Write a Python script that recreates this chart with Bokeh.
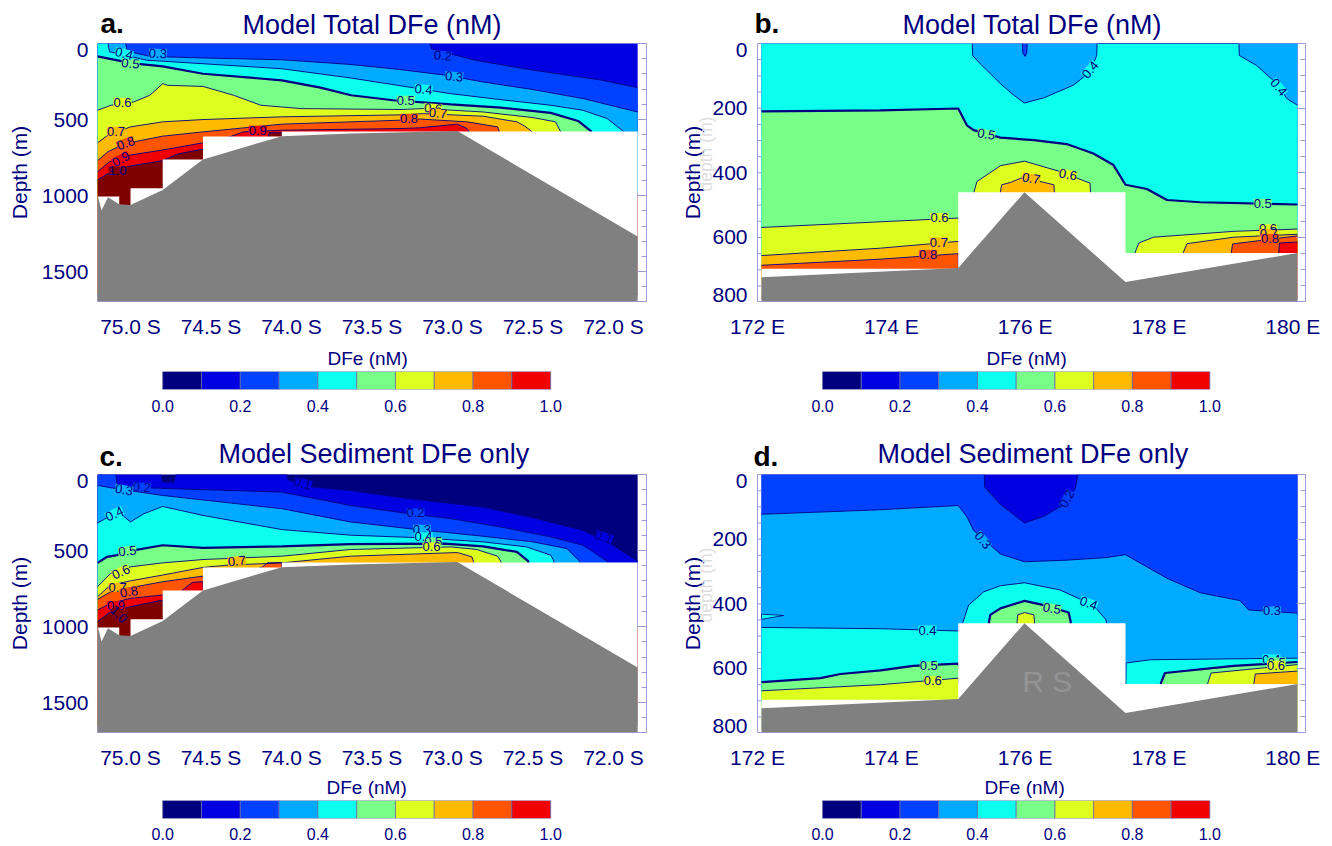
from bokeh.plotting import figure
from bokeh.models import Range1d, FixedTicker, LinearAxis, Label, Title, ColumnDataSource
from bokeh.layouts import column, row
from bokeh.core.properties import value
from bokeh.embed import file_html
from bokeh.resources import INLINE

FONT = "Liberation Sans"
NAVY = "#000080"
FRAME = "#9c9cd8"
GRAY = "#808080"
PALETTE = ["#00007f", "#0000e0", "#0040ff", "#00aaff", "#0affee", "#78ff88",
           "#dcff20", "#ffbb00", "#ff5500", "#f00000", "#800000"]
BAR_LEVELS = [0.0, 0.1, 0.2, 0.3, 0.4, 0.5, 0.6, 0.7, 0.8, 0.9, 1.0]
BAR_TICKS = [0.0, 0.2, 0.4, 0.6, 0.8, 1.0]

LAT_TICKS = [75.0, 74.5, 74.0, 73.5, 73.0, 72.5, 72.0]
LON_TICKS = [172, 174, 176, 178, 180]

# ---- shared sea-floor and grid mask ---------------------------------------
LAT_TERRAIN_X = [75.205, 75.18, 75.14, 75.07, 75.0, 74.8, 74.55, 74.06, 73.63, 72.97, 71.85]
LAT_TERRAIN_D = [995, 1098, 1011, 1057, 1061, 963, 762, 609, 592, 576, 1268]
LAT_MASK_X = [75.205, 75.07, 75.07, 75.0, 75.0, 74.8, 74.8, 74.55, 74.55, 74.06, 74.06, 71.85]
LAT_MASK_D = [1006, 1006, 1061, 1061, 952, 952, 762, 762, 612, 612, 579, 579]
LON_TERRAIN_X = [172.06, 175.0, 175.99, 177.5, 180.07]
LON_TERRAIN_D = [723, 694, 460, 738, 648]
LON_MASK_X = [172.06, 175.0, 175.0, 177.5, 177.5, 180.07]
LON_MASK_D = [697, 697, 460, 460, 648, 648]

# ---- panel a: Ross Sea transect, total DFe --------------------------------
A02_X = [75.205, 73.14, 73.13, 72.86, 72.5, 72.08, 71.85]
A02_D = [0, 0, 35, 110, 175, 240, 290]
A03_X = [75.205, 75.03, 75.02, 74.88, 74.55, 74.06, 73.63, 73.32, 73.03, 72.81, 72.5, 72.19, 71.85]
A03_D = [0, 0, 50, 85, 95, 107, 138, 172, 210, 253, 303, 362, 450]
A04_X = [75.205, 75.14, 75.13, 75.03, 74.9, 74.55, 74.06, 73.63, 73.25, 73.01, 72.7, 72.39, 72.19, 72.04, 71.94, 71.93, 71.85]
A04_D = [0, 0, 55, 78, 110, 133, 166, 227, 290, 330, 369, 406, 439, 493, 576, 700, 1000]
A05_X = [75.205, 75.08, 75.0, 74.8, 74.55, 74.06, 73.82, 73.63, 73.37, 73.01, 72.7, 72.39, 72.22, 72.14, 72.13, 71.85]
A05_D = [85, 111, 129, 150, 199, 242, 290, 340, 373, 400, 421, 456, 509, 576, 650, 1000]
A06_X = [75.205, 75.12, 74.98, 74.88, 74.8, 74.77, 74.55, 74.36, 74.19, 73.94, 73.32, 73.18, 72.81, 72.5, 72.36, 72.33, 72.32, 71.85]
A06_D = [439, 406, 384, 340, 264, 275, 282, 340, 406, 428, 434, 428, 450, 487, 515, 576, 650, 1000]
A07_X = [75.205, 75.14, 75.0, 74.8, 74.55, 74.06, 73.32, 73.18, 72.81, 72.6, 72.55, 72.51, 72.5, 71.85]
A07_D = [653, 603, 548, 515, 500, 482, 469, 461, 478, 515, 544, 576, 650, 1000]
A08_X = [75.205, 75.14, 75.03, 74.8, 74.55, 74.06, 73.32, 73.26, 72.91, 72.72, 72.71, 72.7, 71.85]
A08_D = [770, 711, 657, 609, 581, 530, 504, 493, 515, 548, 576, 650, 1000]
A09_X = [75.205, 75.13, 75.0, 74.8, 74.55, 74.38, 74.3, 74.06, 73.32, 73.2, 72.97, 72.91, 72.9, 72.89, 71.85]
A09_D = [843, 777, 733, 700, 653, 613, 581, 570, 559, 554, 530, 559, 576, 650, 1000]
A10_X = [75.205, 75.12, 75.0, 74.8, 74.71, 74.55, 74.54, 74.15, 74.14, 74.06, 74.05, 71.85]
A10_D = [897, 843, 805, 770, 727, 694, 700, 700, 587, 587, 700, 1000]
A_LABEL_TEXT = ["0.2", "0.3", "0.4", "0.5", "0.6", "0.7", "0.8", "0.9", "0.6", "0.7", "0.8", "0.9", "1.0", "0.5", "0.3", "0.4"]
A_LABEL_X = [73.06, 72.99, 73.18, 73.29, 73.12, 73.09, 73.27, 74.21, 75.05, 75.09, 75.03, 75.06, 75.08, 75.0, 74.83, 75.04]
A_LABEL_D = [79, 216, 301, 373, 426, 458, 491, 570, 386, 576, 655, 760, 838, 131, 65, 65]
A_LABEL_ANGLE = [-5, -5, -5, 0, -5, -5, 0, 0, 0, 0, 20, 30, 0, -5, -3, -15]

# ---- panel b: 172E-180E transect, total DFe -------------------------------
B03_X = [172.06, 175.95, 175.96, 175.965, 176.0, 176.025, 176.03, 176.04, 180.07]
B03_D = [0, 0, 0, 30, 40, 30, 0, 0, 0]
B04_X = [172.06, 175.21, 175.215, 175.33, 175.63, 175.83, 175.99, 176.28, 176.72, 176.97, 177.07, 177.075, 179.195, 179.2, 179.46, 179.76, 179.91, 180.07]
B04_D = [0, 0, 37, 63, 124, 160, 184, 168, 129, 88, 37, 0, 0, 37, 68, 124, 170, 191]
B05_X = [172.06, 173.84, 175.0, 175.13, 175.23, 175.63, 176.13, 176.62, 177.02, 177.32, 177.5, 177.82, 178.12, 178.62, 180.07]
B05_D = [210, 207, 201, 253, 268, 291, 299, 311, 340, 376, 437, 450, 484, 491, 498]
B06_X = [172.06, 175.0, 175.1, 175.22, 175.28, 175.63, 175.99, 176.52, 176.97, 176.98, 177.5, 177.64, 177.7, 177.92, 179.12, 180.07]
B06_D = [569, 540, 600, 470, 427, 378, 364, 396, 432, 470, 700, 648, 617, 599, 581, 574]
B07_X = [172.06, 173.84, 175.0, 175.3, 175.62, 175.65, 175.78, 175.93, 175.99, 176.43, 176.44, 176.45, 178.35, 178.36, 178.42, 179.12, 180.07]
B07_D = [656, 633, 612, 700, 470, 437, 430, 417, 415, 437, 470, 780, 780, 648, 619, 599, 590]
B08_X = [172.06, 173.84, 175.0, 175.01, 179.07, 179.08, 179.1, 180.07]
B08_D = [686, 667, 650, 780, 780, 648, 620, 595]
B09_X = [172.06, 179.78, 179.79, 179.8, 180.07]
B09_D = [780, 780, 648, 617, 614]
B_LABEL_TEXT = ["0.5", "0.6", "0.7", "0.8", "0.7", "0.6", "0.4", "0.4", "0.5", "0.6", "0.7", "0.8"]
B_LABEL_X = [175.42, 174.72, 174.71, 174.55, 176.09, 176.64, 176.97, 179.79, 179.55, 179.63, 179.64, 179.66]
B_LABEL_D = [280, 538, 614, 653, 417, 405, 81, 135, 494, 573, 588, 603]
B_LABEL_ANGLE = [-10, 0, 0, 0, -10, -10, 50, -50, 0, 0, 0, 0]

# ---- panel c: Ross Sea transect, sediment DFe -----------------------------
C01_X = [75.205, 74.81, 74.8, 74.73, 74.72, 74.03, 74.02, 73.9, 73.63, 73.27, 72.81, 72.5, 72.19, 72.02, 71.85]
C01_D = [0, 0, 50, 50, 0, 0, 35, 79, 105, 159, 214, 284, 367, 454, 570]
C02_X = [75.205, 75.09, 75.083, 74.917, 74.06, 73.634, 73.27, 73.01, 72.7, 72.39, 72.19, 72.04, 72.03, 71.85]
C02_D = [0, 0, 72, 87, 116, 203, 258, 290, 345, 410, 465, 570, 700, 1000]
C03_X = [75.205, 75.083, 74.8, 74.06, 73.634, 73.22, 72.81, 72.5, 72.29, 72.21, 72.2, 71.85]
C03_D = [72, 94, 138, 225, 312, 362, 406, 443, 487, 570, 700, 1000]
C04_X = [75.205, 75.145, 75.062, 75.0, 74.917, 74.8, 74.55, 74.06, 73.634, 73.22, 72.81, 72.54, 72.39, 72.37, 72.36, 71.85]
C04_D = [319, 284, 258, 312, 258, 210, 269, 362, 399, 415, 443, 476, 530, 570, 700, 1000]
C05_X = [75.205, 75.145, 75.083, 75.0, 74.8, 74.55, 74.06, 73.634, 73.05, 72.81, 72.6, 72.53, 72.52, 71.85]
C05_D = [581, 541, 530, 502, 465, 482, 472, 458, 454, 472, 509, 570, 700, 1000]
C06_X = [75.205, 75.124, 75.0, 74.8, 74.55, 74.06, 73.634, 73.01, 72.85, 72.72, 72.7, 72.69, 71.85]
C06_D = [738, 651, 607, 581, 559, 537, 493, 476, 493, 537, 570, 700, 1000]
C07_X = [75.205, 75.124, 75.0, 74.8, 74.55, 74.4, 74.06, 73.634, 72.97, 72.88, 72.87, 72.86, 71.85]
C07_D = [803, 727, 699, 661, 611, 596, 581, 537, 513, 541, 570, 700, 1000]
C08_X = [75.205, 75.124, 75.0, 74.8, 74.55, 74.4, 74.18, 74.15, 74.06, 74.05, 71.85]
C08_D = [821, 771, 744, 705, 668, 700, 607, 581, 578, 800, 1000]
C09_X = [75.205, 75.124, 75.0, 74.8, 74.69, 74.617, 74.55, 74.54, 71.85]
C09_D = [891, 847, 814, 792, 771, 709, 705, 900, 1000]
C10_X = [75.205, 75.124, 75.0, 74.8, 74.79, 71.85]
C10_D = [967, 902, 869, 825, 900, 1000]
C_LABEL_TEXT = ["0.2", "0.3", "0.4", "0.5", "0.6", "0.7", "0.8", "0.9", "1.0", "0.7", "0.2", "0.3", "0.4", "0.5", "0.6", "0.1", "0.1"]
C_LABEL_X = [74.93, 75.04, 75.1, 75.02, 75.06, 75.08, 75.01, 75.09, 75.07, 74.34, 73.23, 73.19, 73.18, 73.12, 73.13, 72.06, 73.93]
C_LABEL_D = [83, 100, 258, 502, 640, 742, 771, 862, 919, 568, 253, 360, 410, 443, 476, 410, 57]
C_LABEL_ANGLE = [-3, -10, 25, 5, 25, 0, 10, 0, -45, 5, 0, 0, 0, 0, 0, -20, -15]

# ---- panel d: 172E-180E transect, sediment DFe ----------------------------
D02_X = [172.06, 175.39, 175.395, 175.63, 175.99, 176.28, 176.55, 176.75, 176.79, 176.795, 180.07]
D02_D = [0, 0, 39, 92, 150, 129, 96, 44, 0, 0, 0]
D03_X = [172.06, 173.84, 175.0, 175.13, 175.23, 175.63, 175.99, 176.62, 177.22, 177.5, 178.12, 178.62, 179.21, 179.34, 180.07]
D03_D = [123, 109, 96, 131, 173, 246, 270, 265, 257, 248, 321, 366, 390, 419, 429]
D04_X = [172.06, 173.84, 175.0, 175.07, 175.155, 175.38, 175.63, 175.99, 176.52, 177.02, 177.21, 177.22, 177.5, 177.51, 177.87, 180.07]
D04_D = [473, 477, 484, 457, 404, 363, 344, 335, 357, 404, 450, 470, 700, 583, 573, 568]
D05_X = [172.06, 172.94, 173.24, 173.84, 174.33, 175.0, 175.2, 175.45, 175.46, 175.48, 175.63, 175.99, 176.28, 176.65, 176.68, 176.69, 178.02, 178.03, 178.09, 179.12, 180.07]
D05_D = [642, 630, 617, 606, 592, 585, 700, 700, 455, 434, 414, 391, 404, 427, 455, 700, 700, 645, 614, 592, 580]
D06_X = [172.06, 173.84, 175.0, 175.1, 175.87, 175.88, 175.89, 175.99, 176.13, 176.14, 176.15, 178.72, 178.73, 178.78, 180.07]
D06_D = [669, 650, 630, 750, 750, 455, 434, 427, 434, 455, 750, 750, 645, 614, 588]
D07_X = [172.06, 179.41, 179.42, 179.44, 180.07]
D07_D = [780, 780, 645, 617, 608]
D_SLIVER_X = [172.06, 172.39, 172.06]
D_SLIVER_D = [432, 436, 448]
D_LABEL_TEXT = ["0.3", "0.4", "0.5", "0.6", "0.2", "0.5", "0.4", "0.3", "0.4", "0.5", "0.6"]
D_LABEL_X = [175.37, 174.54, 174.56, 174.62, 176.62, 176.4, 176.95, 179.69, 179.68, 179.76, 179.75]
D_LABEL_D = [203, 481, 592, 638, 75, 414, 398, 422, 571, 580, 590]
D_LABEL_ANGLE = [-50, 0, 0, 0, 60, -10, -20, 0, 0, 0, 0]


def line_y(ds):
    out = []
    for i, d in enumerate(ds):
        left = ds[i - 1] if i > 0 else 0
        right = ds[i + 1] if i < len(ds) - 1 else 0
        out.append(float("nan") if d == 0 and left == 0 and right == 0 else d)
    return out


def make_panel(x0, x1, y1, xticks, xlabels, yticks, ylabels, right_major, right_minor,
               title, title_offset, title_standoff, base_idx, contours, mask, terrain, labels, bottom,
               width, left, right, height, top, lower, tick_standoff, label_standoff,
               letter, letter_offset, letter_standoff):
    p = figure(width=width, height=height, x_range=Range1d(x0, x1), y_range=Range1d(y1, 0),
               output_backend="svg", toolbar_location=None,
               min_border_left=left, min_border_right=right, min_border_top=top, min_border_bottom=lower,
               outline_line_color=FRAME, outline_line_width=1, background_fill_color="white")
    p.grid.visible = False
    p.title = Title(text=title, align="left", offset=title_offset, standoff=title_standoff,
                    text_font=FONT, text_font_size="27px", text_font_style="normal", text_color=NAVY)
    p.add_layout(Title(text=letter, align="left", offset=letter_offset, standoff=letter_standoff,
                       text_font=FONT, text_font_size="28px", text_font_style="bold", text_color="black"),
                 "above")
    xa, ya = p.xaxis[0], p.yaxis[0]
    xa.ticker = FixedTicker(ticks=xticks)
    xa.major_label_overrides = dict(zip(xticks, xlabels))
    ya.ticker = FixedTicker(ticks=yticks)
    ya.major_label_overrides = dict(zip(yticks, ylabels))
    ya.axis_label = "Depth (m)"
    ya.axis_label_standoff = label_standoff
    ya.axis_label_text_font = FONT
    ya.axis_label_text_font_size = "21px"
    ya.axis_label_text_font_style = "normal"
    ya.axis_label_text_color = NAVY
    for ax in (xa, ya):
        ax.major_label_text_font = FONT
        ax.major_label_text_font_size = "21px"
        ax.major_label_text_color = NAVY
        ax.major_tick_line_color = None
        ax.minor_tick_line_color = None
        ax.axis_line_color = None
    xa.major_label_standoff = 7
    ya.major_label_standoff = tick_standoff
    ra = LinearAxis(ticker=FixedTicker(ticks=right_major, minor_ticks=right_minor),
                    major_label_text_font_size="0px", major_label_text_color=None,
                    major_label_standoff=0, axis_line_color=FRAME,
                    major_tick_line_color=FRAME, minor_tick_line_color=FRAME,
                    major_tick_in=9, major_tick_out=0, minor_tick_in=5, minor_tick_out=0)
    p.add_layout(ra, "right")

    xl, xr = contours[0][1][0], contours[0][1][-1]
    p.patch([xl, xr, xr, xl], [0, 0, bottom, bottom], color=PALETTE[base_idx], line_color=None)
    for lev, xs, ds in contours:
        p.patch(list(xs) + [xr, xl], list(ds) + [bottom, bottom],
                color=PALETTE[int(round(lev * 10))], line_color=None)
    for lev, xs, ds in contours:
        p.line(xs, line_y(ds), line_color=NAVY, line_width=2.2 if abs(lev - 0.5) < 1e-6 else 0.9)
    p.patch(list(mask[0]) + [xr, xl], list(mask[1]) + [bottom, bottom], color="white", line_color=None)
    tx, td = terrain
    p.patch(list(tx) + [tx[-1], tx[0]], list(td) + [y1, y1], color=GRAY, line_color=None)
    text, lx, ld, la = labels
    bg = [PALETTE[int(round(float(t) * 10))] for t in text]
    src = ColumnDataSource(dict(x=lx, y=ld, t=text, a=la, bg=bg))
    p.text("x", "y", text="t", angle="a", angle_units="deg", source=src,
           text_font=value(FONT), text_font_size="13px", text_color=NAVY,
           text_align="center", text_baseline="middle", background_fill_color="bg")
    return p


def make_bar(width, left, right, height, top, lower, title, title_offset, tick_standoff):
    p = figure(width=width, height=height, x_range=Range1d(-0.168, 1.247), y_range=Range1d(0, 1),
               output_backend="svg", toolbar_location=None,
               min_border_left=left, min_border_right=right,
               min_border_top=top, min_border_bottom=lower,
               outline_line_color=None)
    p.grid.visible = False
    p.yaxis.visible = False
    p.title = Title(text=title, align="left", offset=title_offset, standoff=5,
                    text_font=FONT, text_font_size="19px", text_font_style="normal", text_color=NAVY)
    xa = p.xaxis[0]
    xa.ticker = FixedTicker(ticks=BAR_TICKS)
    xa.major_label_overrides = {t: f"{t:.1f}" for t in BAR_TICKS}
    xa.major_label_text_font = FONT
    xa.major_label_text_font_size = "16px"
    xa.major_label_text_color = NAVY
    xa.major_tick_line_color = None
    xa.minor_tick_line_color = None
    xa.axis_line_color = None
    xa.major_label_standoff = tick_standoff
    p.quad(left=BAR_LEVELS[:-1], right=BAR_LEVELS[1:], bottom=0, top=1,
           fill_color=PALETTE[:10], line_color="#6a6aa8", line_width=0.8)
    return p


LAT_LABELS = [f"{v:.1f} S" for v in LAT_TICKS]
LON_LABELS = [f"{v} E" for v in LON_TICKS]
LAT_Y_TICKS = [40, 500, 1000, 1500]
LAT_Y_LABELS = ["0", "500", "1000", "1500"]
LON_Y_TICKS = [20, 200, 400, 600, 777]
LON_Y_LABELS = ["0", "200", "400", "600", "800"]
LAT_RIGHT_MAJOR = [500, 1000, 1500]
LAT_RIGHT_MINOR = [100, 200, 300, 400, 600, 700, 800, 900, 1100, 1200, 1300, 1400, 1600]
LON_RIGHT_MAJOR = [200, 400, 600]
LON_RIGHT_MINOR = [50, 100, 150, 250, 300, 350, 450, 500, 550, 650, 700, 750]
LAT_X0, LAT_X1, LAT_BOTTOM = 75.205, 71.795, 1696
LON_X0, LON_X1, LON_BOTTOM = 172.0, 180.19, 798

pa = make_panel(LAT_X0, LAT_X1, LAT_BOTTOM, LAT_TICKS, LAT_LABELS, LAT_Y_TICKS, LAT_Y_LABELS,
                LAT_RIGHT_MAJOR, LAT_RIGHT_MINOR, "Model Total DFe (nM)", 145, -76, 1,
                [(0.2, A02_X, A02_D), (0.3, A03_X, A03_D), (0.4, A04_X, A04_D), (0.5, A05_X, A05_D),
                 (0.6, A06_X, A06_D), (0.7, A07_X, A07_D), (0.8, A08_X, A08_D), (0.9, A09_X, A09_D),
                 (1.0, A10_X, A10_D)],
                (LAT_MASK_X, LAT_MASK_D), (LAT_TERRAIN_X, LAT_TERRAIN_D),
                (A_LABEL_TEXT, A_LABEL_X, A_LABEL_D, A_LABEL_ANGLE), 1650,
                668, 97, 22, 340, 43, 38, 3, 8, "a.", 3, 9)
pb = make_panel(LON_X0, LON_X1, LON_BOTTOM, LON_TICKS, LON_LABELS, LON_Y_TICKS, LON_Y_LABELS,
                LON_RIGHT_MAJOR, LON_RIGHT_MINOR, "Model Total DFe (nM)", 145, -76, 2,
                [(0.3, B03_X, B03_D), (0.4, B04_X, B04_D), (0.5, B05_X, B05_D), (0.6, B06_X, B06_D),
                 (0.7, B07_X, B07_D), (0.8, B08_X, B08_D), (0.9, B09_X, B09_D)],
                (LON_MASK_X, LON_MASK_D), (LON_TERRAIN_X, LON_TERRAIN_D),
                (B_LABEL_TEXT, B_LABEL_X, B_LABEL_D, B_LABEL_ANGLE), 790,
                662, 89, 25, 340, 43, 38, 4, 5, "b.", -3, 9)
pc = make_panel(LAT_X0, LAT_X1, LAT_BOTTOM, LAT_TICKS, LAT_LABELS, LAT_Y_TICKS, LAT_Y_LABELS,
                LAT_RIGHT_MAJOR, LAT_RIGHT_MINOR, "Model Sediment DFe only", 121, -66, 0,
                [(0.1, C01_X, C01_D), (0.2, C02_X, C02_D), (0.3, C03_X, C03_D), (0.4, C04_X, C04_D),
                 (0.5, C05_X, C05_D), (0.6, C06_X, C06_D), (0.7, C07_X, C07_D), (0.8, C08_X, C08_D),
                 (0.9, C09_X, C09_D), (1.0, C10_X, C10_D)],
                (LAT_MASK_X, LAT_MASK_D), (LAT_TERRAIN_X, LAT_TERRAIN_D),
                (C_LABEL_TEXT, C_LABEL_X, C_LABEL_D, C_LABEL_ANGLE), 1650,
                668, 97, 22, 337, 40, 38, 3, 8, "c.", 2, 6)
pd = make_panel(LON_X0, LON_X1, LON_BOTTOM, LON_TICKS, LON_LABELS, LON_Y_TICKS, LON_Y_LABELS,
                LON_RIGHT_MAJOR, LON_RIGHT_MINOR, "Model Sediment DFe only", 120, -66, 1,
                [(0.2, D02_X, D02_D), (0.3, D03_X, D03_D), (0.4, D04_X, D04_D), (0.5, D05_X, D05_D),
                 (0.6, D06_X, D06_D), (0.7, D07_X, D07_D)],
                (LON_MASK_X, LON_MASK_D), (LON_TERRAIN_X, LON_TERRAIN_D),
                (D_LABEL_TEXT, D_LABEL_X, D_LABEL_D, D_LABEL_ANGLE), 790,
                662, 89, 25, 337, 40, 38, 4, 5, "d.", -4, 6)
pd.patch(D_SLIVER_X, D_SLIVER_D, color=PALETTE[4], line_color=NAVY, line_width=0.8)

# left-hand tick marks of the two longitude panels
for p in (pb, pd):
    ys = LON_RIGHT_MAJOR + LON_RIGHT_MINOR
    p.segment(x0=[172.0] * len(ys), x1=[172.06] * len(ys), y0=ys, y1=ys, line_color=FRAME, line_width=1)
    p.add_layout(Title(text="depth (m)", align="left", offset=110, standoff=-75,
                       text_font=FONT, text_font_size="17.5px", text_font_style="normal",
                       text_color="#dedede"), "left")

pd.add_layout(Label(x=176.33, y=641, text="R S", text_font=FONT, text_font_size="30px",
                    text_color="#949494", text_align="center", text_baseline="middle"))

ba = make_bar(668, 97, 22, 94, 31, 45, "DFe (nM)", 230, 4)
bb = make_bar(662, 89, 25, 94, 31, 45, "DFe (nM)", 229, 4)
bc = make_bar(668, 97, 22, 71, 29, 24, "DFe (nM)", 229, 3)
bd = make_bar(662, 89, 25, 71, 29, 24, "DFe (nM)", 227, 3)

page = column(row(column(pa, ba), column(pb, bb)),
              row(column(pc, bc), column(pd, bd)))
open("out.html", "w").write(file_html(page, INLINE))
